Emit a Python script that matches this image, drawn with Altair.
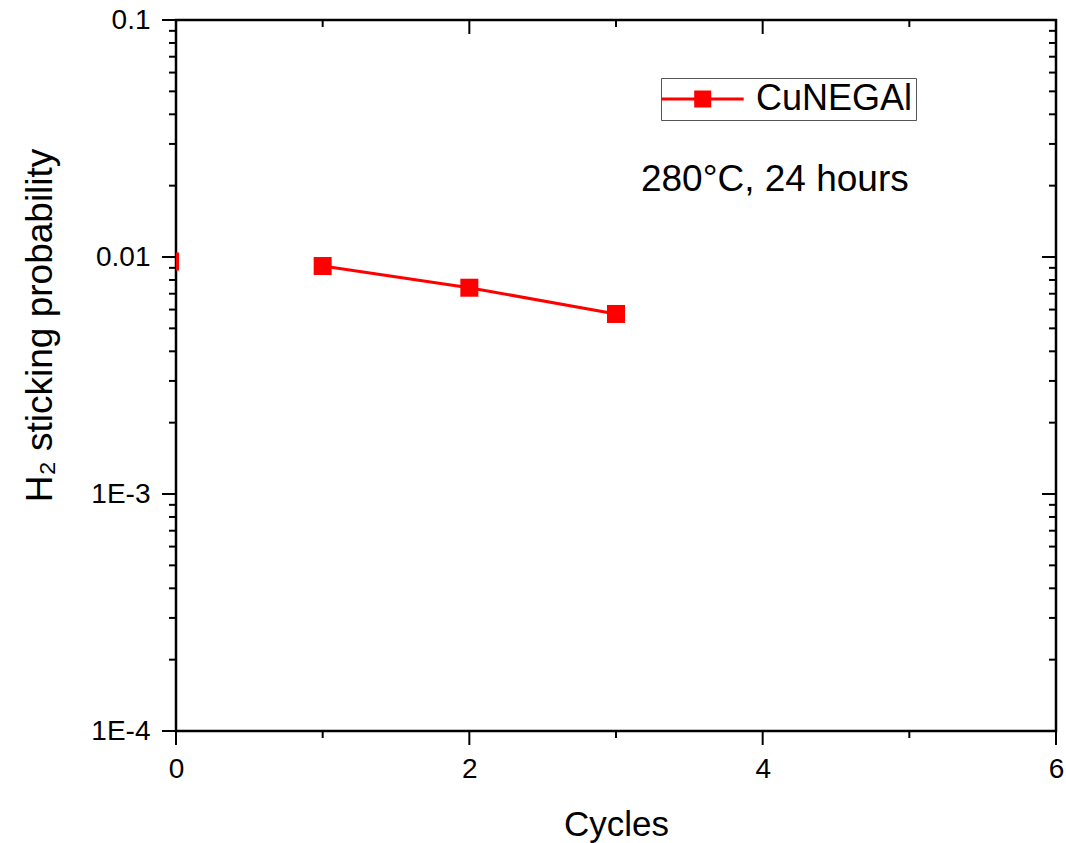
import altair as alt
import pandas as pd

# ---- data ----
cycles = [1, 2, 3]
sticking = [0.00916, 0.00742, 0.00575]
series_name = "CuNEGAl"

edge_cycles = [-0.041]
edge_sticking = [0.00957]

x_major = [0, 2, 4, 6]
x_minor = [1, 3, 5]
y_major = [0.0001, 0.001, 0.01, 0.1]
y_major_labels = ["1E-4", "1E-3", "0.01", "0.1"]
y_minor = [m * d for d in [0.0001, 0.001, 0.01] for m in range(2, 10)]

note_x = [3.17]
note_y = [0.0190]
note_text = ["280°C, 24 hours"]

# ---- layout ----
W, H = 880, 711
FONT = "Liberation Sans"
MAJ, MIN = 14, 7

xs = alt.Scale(domain=[0, 6], nice=False, zero=False)
ys = alt.Scale(type="log", domain=[0.0001, 0.1], nice=False)

label_expr = " : ".join(
    f"datum.value == {v} ? '{l}'" for v, l in zip(y_major, y_major_labels)
) + " : ''"

x_axis = alt.Axis(
    title="Cycles", values=x_major, format="d", ticks=False, tickSize=0, domain=False, grid=False,
    labelFontSize=28, labelFont=FONT, labelColor="black", labelPadding=24, labelFlush=False,
    labelOverlap=False, titleFont=FONT, titleFontSize=35, titleFontWeight="normal",
    titleColor="black", titleBaseline="alphabetic", titleY=104)
y_axis = alt.Axis(
    title="H₂ sticking probability", values=y_major, labelExpr=label_expr, ticks=False,
    tickSize=0, domain=False, grid=False, labelFontSize=28, labelFont=FONT,
    labelColor="black", labelPadding=26, labelOverlap=False, labelFlush=False,
    titleFont=FONT, titleFontSize=37, titleFontWeight="normal", titleColor="black",
    titleBaseline="middle", titleX=-136, titleY=305)

X = alt.X("x:Q", scale=xs, axis=x_axis)
Y = alt.Y("y:Q", scale=ys, axis=y_axis)

# legend symbol: line with a square in the middle (u = 14 px per path unit)
u = 14
s = -0.45
L = 82 / u - 1 + s
c = 41 / u - 1 + s
h = 7 / u
sym = (f"M{-1 + s:.3f},0L{L:.3f},0M{c-h:.3f},{-h:.3f}L{c+h:.3f},{-h:.3f}"
       f"L{c+h:.3f},{h:.3f}L{c-h:.3f},{h:.3f}Z")

df = pd.DataFrame({"x": cycles, "y": sticking, "series": [series_name] * len(cycles)})
edge_df = pd.DataFrame({"x": edge_cycles, "y": edge_sticking})

line = alt.Chart(df).mark_line(color="#ff0000", strokeWidth=3).encode(
    x=X, y=Y,
    color=alt.Color("series:N", scale=alt.Scale(domain=[series_name], range=["#ff0000"]),
                    legend=alt.Legend(
                        title=None, orient="none", legendX=485, legendY=58,
                        symbolType=sym, symbolSize=(2 * u) ** 2,
                        symbolFillColor="#ff0000", symbolStrokeColor="#ff0000",
                        symbolStrokeWidth=3, labelFont=FONT, labelFontSize=36,
                        labelColor="black", labelOffset=82 - 2 * u + 2,
                        strokeColor="#555555", padding=3, labelLimit=400)),
)

points = alt.Chart(df).mark_point(shape="square", filled=True, size=324, color="#ff0000",
                                  opacity=1).encode(x=X, y=Y)

edge = alt.Chart(edge_df).mark_point(shape="square", filled=True, size=324, color="#ff0000",
                                     opacity=1, clip=True).encode(x=X, y=Y)

note = alt.Chart(pd.DataFrame({"x": note_x, "y": note_y, "t": note_text})).mark_text(
    font=FONT, fontSize=37, align="left", baseline="alphabetic", color="black").encode(
    x=X, y=Y, text="t:N")


def xticks(vals, y0, y1):
    return alt.Chart(pd.DataFrame({"x": vals})).mark_rule(color="black", strokeWidth=2).encode(
        x=X, y=alt.value(y0), y2=alt.value(y1))


def yticks(vals, x0, x1):
    return alt.Chart(pd.DataFrame({"y": vals})).mark_rule(color="black", strokeWidth=2).encode(
        y=Y, x=alt.value(x0), x2=alt.value(x1))


ticks = [
    xticks(x_major, H, H + MAJ), xticks(x_minor, H, H + MIN),
    xticks(x_major, 0, MAJ), xticks(x_minor, 0, MIN),
    yticks(y_major, -MAJ, 0), yticks(y_minor, -MIN, 0),
    yticks(y_major, W - MAJ, W), yticks(y_minor, W - MIN, W),
]

chart = alt.layer(line, points, edge, note, *ticks).properties(
    width=W, height=H,
    autosize=alt.AutoSizeParams(type="none"),
    padding={"left": 176, "top": 20, "right": 10, "bottom": 112},
    background="white",
).configure_view(stroke="black", strokeWidth=2.5)

chart.save("out.html", embed_options={"renderer": "svg", "actions": False})
